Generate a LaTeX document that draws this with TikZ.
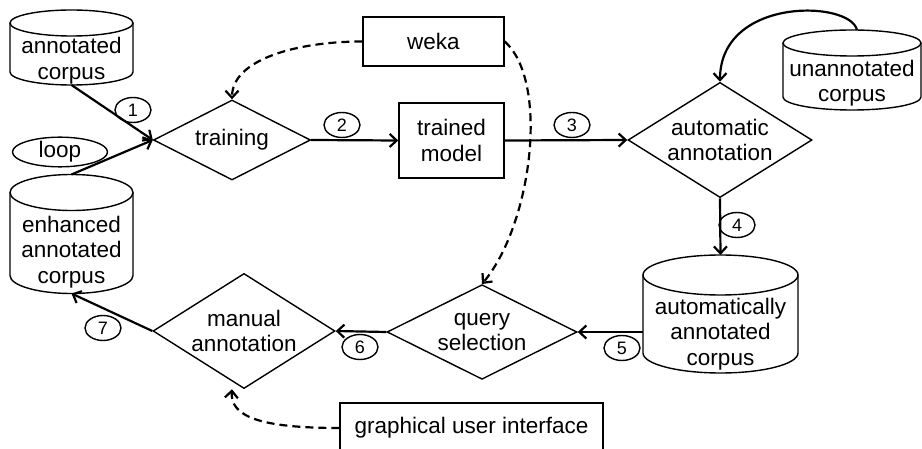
\documentclass[tikz,border=0pt]{standalone}
\usepackage{fontspec}
\setmainfont{Liberation Sans}
\usetikzlibrary{arrows.meta,shapes.geometric,positioning}

\begin{document}
\begin{tikzpicture}
[x=1pt,y=-1pt,
 font=\fontsize{22.5}{25.5}\selectfont,
 corpus/.style={rectangle,align=center,inner sep=0pt,outer sep=0pt},
 outline/.style={line width=1.4pt},
 decision/.style={diamond,draw,outline,align=center,inner sep=-8pt},
 tool/.style={rectangle,draw,outline,align=center,inner sep=0pt},
 num/.style={ellipse,draw,outline,inner sep=0pt,minimum width=36pt,minimum height=25pt,font=\fontsize{18}{18}\selectfont},
 flow/.style={line width=2.2pt,-{Straight Barb[length=7pt,width=13pt]}},
 uses/.style={flow,dash pattern=on 8pt off 5pt}]
\useasboundingbox (0,0) rectangle (922,449);

% stores (body below the lid)
\node[corpus,minimum width=123pt,minimum height=49pt] (ac) at (71.5,60.5) {annotated\\corpus};
\node[corpus,minimum width=123pt,minimum height=83pt] (ec) at (71.5,252) {enhanced\\annotated\\corpus};
\node[corpus,minimum width=138pt,minimum height=54pt] (uc) at (852,83) {unannotated\\corpus};
\node[corpus,minimum width=155pt,minimum height=78pt] (aac) at (720.5,334) {automatically\\annotated\\corpus};
\foreach \c/\rx/\ry in {ac/61.5/13,ec/61.5/18,uc/69/13,aac/77.5/20}{
  \draw[outline] ([yshift=\ry pt]\c.north west) -- ([yshift=\ry pt]\c.south west)
    arc[start angle=180,end angle=360,x radius=\rx pt,y radius=\ry pt] -- ([yshift=\ry pt]\c.north east);
  \draw[outline] ([yshift=\ry pt]\c.north) ellipse[x radius=\rx pt,y radius=\ry pt];
}
\node[ellipse,draw,outline,inner sep=0pt,minimum width=95pt,minimum height=23pt] (loop) at (60,152) {loop};

% steps
\node[decision,minimum width=157pt,minimum height=80pt] (train) at (232,140) {training};
\node[decision,minimum width=184pt,minimum height=110pt] (auto) at (720,140) {automatic\\annotation};
\node[decision,minimum width=190pt,minimum height=70pt] (query) at (482,332) {query\\selection};
\node[decision,minimum width=182pt,minimum height=113pt] (manual) at (244,331) {manual\\annotation};

% tools
\node[tool,minimum width=141pt,minimum height=49pt] (weka) at (433.5,41.5) {weka};
\node[tool,minimum width=105pt,minimum height=75pt] (model) at (451.5,140.5) {trained\\model};
\node[tool,minimum width=263pt,minimum height=50pt] (gui) at (471.5,428) {graphical user interface};

% order
\node[num] (n1) at (133,110) {1};
\node[num] (n2) at (342,125) {2};
\node[num] (n3) at (572,125) {3};
\node[num] (n4) at (737,225) {4};
\node[num] (n5) at (622,348) {5};
\node[num] (n6) at (360,347) {6};
\node[num] (n7) at (103,328) {7};

\draw[flow] (ac.south) -- (train.west);
\draw[flow] ([yshift=36pt]ec.north) -- (train.west);
\draw[flow] (train.east) -- (model.west);
\draw[flow] (model.east) -- (auto.west);
\draw[flow] (auto.south) -- ([yshift=40pt]aac.north);
\draw[flow] (query.east -| aac.west) -- (query.east);
\draw[flow] (query.west) -- (manual.east);
\draw[flow] (manual.west) -- (ec.south);

\draw[flow] ([xshift=5pt,yshift=26pt]uc.north) .. controls +(-7,-30) and +(0,-85) .. (auto.north);
\draw[uses] (weka.west) .. controls +(-65,0) and +(0,-40) .. (train.north);
\draw[uses] (weka.east) .. controls +(45,40) and +(50,-60) .. (query.north);
\draw[uses] (gui.west) .. controls +(-80,0) and +(-2,27) .. ([xshift=-12pt]manual.south);
\end{tikzpicture}
\end{document}
